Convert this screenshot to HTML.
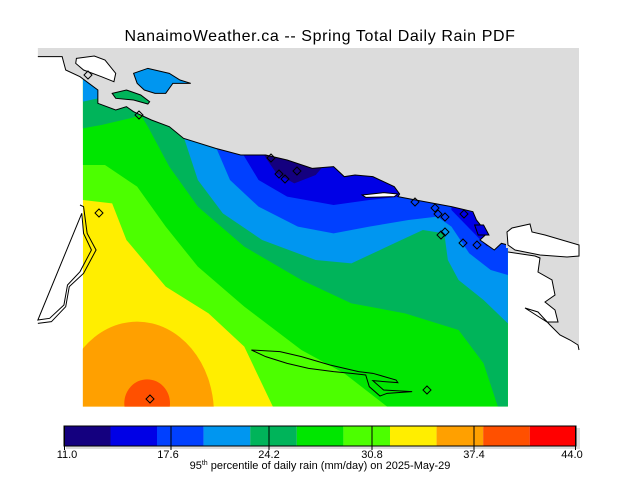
<!DOCTYPE html>
<html><head><style>
body{margin:0;background:#fff;}
svg text{font-family:"Liberation Sans",sans-serif;}
</style></head><body>
<svg width="640" height="480" viewBox="0 0 640 480" xmlns="http://www.w3.org/2000/svg">
<rect width="640" height="480" fill="#fff"/>
<text x="320" y="41" text-anchor="middle" font-size="16" fill="#000" letter-spacing="0.6">NanaimoWeather.ca -- Spring Total Daily Rain PDF</text>
<defs><clipPath id="c"><rect x="148" y="88" width="1190" height="1012"/></clipPath></defs>
<g transform="translate(30,40) scale(0.35714,0.33333)">
 <g clip-path="url(#c)">
  <rect x="148" y="88" width="1190" height="1012" fill="#ffee00"/>
  <ellipse cx="300" cy="1120" rx="215" ry="275" fill="#ffa000"/>
  <ellipse cx="328" cy="1090" rx="64" ry="72" fill="#ff5000"/>
  <path d="M148,480 L230,490 270,600 380,740 500,820 600,920 680,1100 L1400,1100 1400,0 148,0Z" fill="#4cff00"/>
  <path d="M148,375 L210,375 300,440 380,560 470,680 600,800 760,930 880,1000 1000,1100 L1400,1100 1400,0 148,0Z" fill="#00e600"/>
  <path d="M148,265 L200,255 280,235 310,225 330,260 390,380 470,500 600,620 760,720 900,790 1050,820 1200,870 1270,970 1310,1100 L1400,1100 1400,0 148,0Z" fill="#00b45a"/>
  <path d="M148,185 L190,175 240,150 260,100 260,0 148,0Z" fill="#0096f0"/>
  <path d="M430,290 L470,420 540,520 650,600 800,660 900,670 1000,620 1100,570 1160,580 1170,660 1200,720 1270,780 1338,850 L1400,850 1400,0 430,0Z" fill="#0096f0"/>
  <path d="M520,320 L560,420 640,500 750,560 850,580 950,560 1060,540 1140,530 1180,560 1230,640 1290,690 1338,705 L1400,705 1400,0 520,0Z" fill="#0040ff"/>
  <path d="M595,340 L640,420 720,470 850,495 950,480 1040,470 1040,0 595,0Z" fill="#0000e6"/>
  <path d="M1180,500 L1250,520 1260,560 1290,600 1280,620 1180,510Z" fill="#0000e6"/>
  <path d="M655,345 L690,400 740,430 800,405 820,380 760,340Z" fill="#14007f"/>
 </g>
 <path d="M22,24 L1345,24 1345,615 1320,610 1300,630 1260,600 1280,580 1250,540 1240,515 1180,500 1080,480 1030,470 1035,462 1020,440 960,410 910,405 880,410 850,380 790,385 720,360 660,345 590,345 520,325 430,295 390,260 340,240 290,215 270,200 240,210 190,190 190,150 140,110 100,90 90,50 22,50Z" fill="#dcdcdc"/>
 <polyline points="1338,615 1320,610 1300,630 1260,600 1280,580 1250,540 1240,515 1180,500 1080,480 1030,470 1035,462 1020,440 960,410 910,405 880,410 850,380 790,385 720,360 660,345 590,345 520,325 430,295 390,260 340,240 290,215 270,200 240,210 190,190 190,150 140,110 100,90 90,50 22,50" fill="none" stroke="#000" stroke-width="1" vector-effect="non-scaling-stroke"/>
 <path d="M930,465 L990,458 1030,462 1020,470 940,472Z" fill="#fff" stroke="#000" stroke-width="1" vector-effect="non-scaling-stroke"/>
 <path d="M130,55 L180,48 210,60 240,100 235,125 200,110 150,90 128,70Z" fill="#fff" stroke="#000" stroke-width="1" vector-effect="non-scaling-stroke"/>
 <path d="M290,100 L330,85 390,100 420,120 450,130 400,130 380,160 350,160 320,150 300,130Z" fill="#0096f0" stroke="#000" stroke-width="1" vector-effect="non-scaling-stroke"/>
 <path d="M230,160 L270,150 310,165 335,185 330,192 290,180 240,175Z" fill="#00b45a" stroke="#000" stroke-width="1" vector-effect="non-scaling-stroke"/>
 <path d="M1245,555 L1270,555 1285,585 1255,585Z" fill="#0000e6" stroke="#000" stroke-width="1" vector-effect="non-scaling-stroke"/>
 <path d="M140,495 L150,500 155,540 160,580 185,630 150,700 110,740 100,800 60,845 22,850 M22,840 L55,835 95,795 105,735 140,695 172,630 150,580 145,520Z" fill="none" stroke="#000" stroke-width="1" vector-effect="non-scaling-stroke"/>
 <path d="M620,930 L700,935 760,950 840,975 920,995 960,1000 1025,1020 1030,1028 960,1022 990,1050 1070,1055 1000,1060 980,1068 950,1040 940,1005 900,1000 850,995 780,985 720,970 660,950Z" fill="none" stroke="#000" stroke-width="1" vector-effect="non-scaling-stroke"/>
</g>
<rect x="506" y="48" width="73" height="200" fill="#dcdcdc"/>
<rect x="508" y="248" width="71" height="102" fill="#dcdcdc"/>
<path d="M508,252 L535,256 540,258 538,272 552,280 555,295 545,302 555,310 558,322 547,322 525,308 538,312 550,325 560,335 570,340 578,345 579,350 579,352 508,352Z" fill="#fff"/>
<polyline points="508,252 535,256 540,258 538,272 552,280 555,295 545,302 555,310 558,322 547,322 525,308 538,312 550,325 560,335 570,340 578,345 579,350" fill="none" stroke="#000" stroke-width="1"/>
<path d="M508,245 L507,232 512,228 530,224 532,232 545,235 579,245 579,256 567,257 540,255 515,250Z" fill="#fff" stroke="#000" stroke-width="1"/>
<g fill="none" stroke="#000" stroke-width="1">
 <path d="M88,71 l4,4 -4,4 -4,-4z M139,111 l4,4 -4,4 -4,-4z M271,154 l4,4 -4,4 -4,-4z M297,167 l4,4 -4,4 -4,-4z M99,209 l4,4 -4,4 -4,-4z M285,175 l4,4 -4,4 -4,-4z M279,170 l4,4 -4,4 -4,-4z M415,198 l4,4 -4,4 -4,-4z M435,204 l4,4 -4,4 -4,-4z M445,213 l4,4 -4,4 -4,-4z M438,210 l4,4 -4,4 -4,-4z M441,231 l4,4 -4,4 -4,-4z M445,228 l4,4 -4,4 -4,-4z M463,239 l4,4 -4,4 -4,-4z M477,241 l4,4 -4,4 -4,-4z M464,210 l4,4 -4,4 -4,-4z M150,395 l4,4 -4,4 -4,-4z M427,386 l4,4 -4,4 -4,-4z"/>
</g>
<rect x="66" y="428" width="514" height="21" fill="#dcdcdc"/>
<g>
 <rect x="64" y="426" width="46.5" height="20" fill="#14007f"/>
 <rect x="110.5" y="426" width="46.6" height="20" fill="#0000e6"/>
 <rect x="157" y="426" width="46.6" height="20" fill="#0040ff"/>
 <rect x="203.6" y="426" width="46.6" height="20" fill="#0096f0"/>
 <rect x="250.2" y="426" width="46.6" height="20" fill="#00b45a"/>
 <rect x="296.8" y="426" width="46.6" height="20" fill="#00e600"/>
 <rect x="343.4" y="426" width="46.6" height="20" fill="#4cff00"/>
 <rect x="390" y="426" width="46.6" height="20" fill="#ffee00"/>
 <rect x="436.6" y="426" width="46.6" height="20" fill="#ffa000"/>
 <rect x="483.2" y="426" width="46.6" height="20" fill="#ff5000"/>
 <rect x="529.8" y="426" width="46.2" height="20" fill="#ff0000"/>
</g>
<rect x="64" y="426" width="512" height="20" fill="none" stroke="#000" stroke-width="1"/>
<g stroke="#000" stroke-width="1">
 <line x1="64.5" y1="426" x2="64.5" y2="450"/><line x1="171" y1="426" x2="171" y2="450"/>
 <line x1="269" y1="426" x2="269" y2="450"/><line x1="372" y1="426" x2="372" y2="450"/>
 <line x1="474" y1="426" x2="474" y2="450"/><line x1="575.5" y1="426" x2="575.5" y2="450"/>
</g>
<g font-size="11" fill="#000" text-anchor="middle">
 <text x="67" y="458">11.0</text><text x="168" y="458">17.6</text><text x="269" y="458">24.2</text>
 <text x="372" y="458">30.8</text><text x="474" y="458">37.4</text><text x="572" y="458">44.0</text>
 <text x="320" y="469">95<tspan font-size="7" dy="-4">th</tspan><tspan dy="4"> percentile of daily rain (mm/day) on 2025-May-29</tspan></text>
</g>
</svg>
</body></html>
